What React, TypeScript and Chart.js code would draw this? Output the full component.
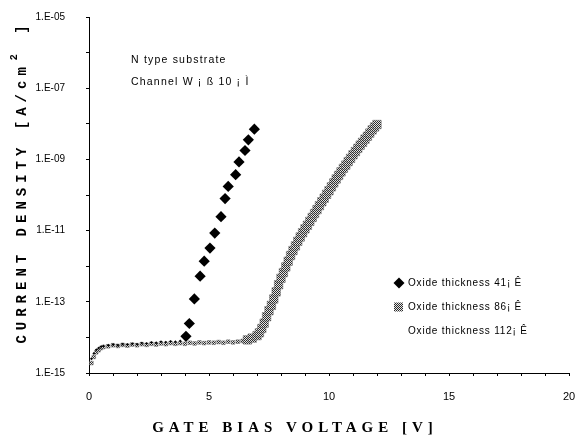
import React, { useEffect, useRef } from 'react';
import { Chart, registerables } from 'chart.js';
Chart.register(...registerables);

// Gate bias voltage [V] and log10 of current density [A/cm2]
const voltage41 = [0.1, 0.2, 0.3, 0.4, 0.5, 0.6, 0.8, 1.0, 1.2, 1.4, 1.6, 1.8, 2.0, 2.2, 2.4, 2.6, 2.8, 3.0, 3.2, 3.4, 3.6, 3.8,
  4.04, 4.18, 4.39, 4.63, 4.8, 5.04, 5.24, 5.5, 5.67, 5.8, 6.11, 6.25, 6.5, 6.64, 6.89];
const logJ41 = [-14.6, -14.45, -14.35, -14.3, -14.26, -14.24, -14.22, -14.2, -14.22, -14.19, -14.2, -14.18, -14.19, -14.16, -14.17, -14.14, -14.15, -14.12, -14.13, -14.11, -14.12, -14.1,
  -13.97, -13.61, -12.92, -12.28, -11.86, -11.49, -11.07, -10.61, -10.1, -9.76, -9.43, -9.07, -8.75, -8.45, -8.15];

const voltage86 = [0.1, 0.2, 0.3, 0.4, 0.5, 0.6, 0.8, 1.0, 1.2, 1.4, 1.6, 1.8, 2.0, 2.2, 2.4, 2.6, 2.8, 3.0, 3.2, 3.4, 3.6, 3.8,
  4.0, 4.2, 4.4, 4.6, 4.8, 5.0, 5.2, 5.4, 5.6, 5.8, 6.0, 6.2, 6.4, 6.6, 6.8,
  7.0, 7.1, 7.2, 7.3, 7.4, 7.5, 7.6, 7.7, 7.8, 7.9, 8.0, 8.1, 8.2, 8.3, 8.4, 8.5, 8.6, 8.7, 8.8, 8.9,
  9.0, 9.1, 9.2, 9.3, 9.4, 9.5, 9.6, 9.7, 9.8, 9.9, 10.0, 10.1, 10.2, 10.3, 10.4, 10.5, 10.6, 10.7, 10.8, 10.9,
  11.0, 11.1, 11.2, 11.3, 11.4, 11.5, 11.6, 11.7, 11.8, 11.9, 12.0];
const logJ86 = [-14.72, -14.55, -14.42, -14.36, -14.3, -14.27, -14.25, -14.22, -14.24, -14.21, -14.23, -14.2, -14.22, -14.19, -14.21, -14.18, -14.2, -14.17, -14.19, -14.16, -14.18, -14.16,
  -14.18, -14.15, -14.17, -14.14, -14.16, -14.14, -14.15, -14.13, -14.15, -14.12, -14.14, -14.12, -14.1, -14.07, -14.02,
  -13.95, -13.87, -13.75, -13.6, -13.42, -13.25, -13.1, -12.92, -12.72, -12.52, -12.34, -12.18, -12.02, -11.86, -11.7, -11.56, -11.43, -11.3, -11.18, -11.06,
  -10.95, -10.85, -10.74, -10.63, -10.52, -10.41, -10.3, -10.19, -10.09, -9.98, -9.88, -9.77, -9.66, -9.55, -9.45, -9.35, -9.25, -9.16, -9.06, -8.97,
  -8.87, -8.78, -8.69, -8.6, -8.52, -8.43, -8.35, -8.26, -8.17, -8.09, -8.02];

const voltage112: number[] = [];
const logJ112: number[] = [];

const seriesLabels = ['Oxide thickness 41¡ Ê', 'Oxide thickness 86¡ Ê', 'Oxide thickness 112¡ Ê'];
const annotationLines = ['N type substrate', 'Channel W ¡ ß 10 ¡ Ì'];
const yTickExponents = [-15, -14, -13, -12, -11, -10, -9, -8, -7, -6, -5];
const yLabelExponents = [-15, -13, -11, -9, -7, -5];
const xLabelValues = [0, 5, 10, 15, 20];
const xTitle = 'GATE BIAS VOLTAGE [V]';
const yTitleParts = ['CURRENT DENSITY [A/cm', '2', ' ]'];

function makePoints(xs: number[], ys: number[]) {
  return xs.map((x, i) => ({ x, y: Math.pow(10, ys[i]) }));
}

export default function App() {
  const ref = useRef<HTMLCanvasElement | null>(null);
  useEffect(() => {
    document.body.style.margin = '0';
    const canvas = ref.current!;
    const ctx = canvas.getContext('2d')!;
    const pc = document.createElement('canvas');
    pc.width = 2; pc.height = 2;
    const g = pc.getContext('2d')!;
    g.fillStyle = '#e6e6e6'; g.fillRect(0, 0, 2, 2);
    g.fillStyle = '#2a2a2a'; g.fillRect(0, 0, 1, 1); g.fillRect(1, 1, 1, 1);
    const pattern = ctx.createPattern(pc, 'repeat')!;

    const overlay = {
      id: 'overlay',
      afterDraw(chart: any) {
        const c = chart.ctx as CanvasRenderingContext2D;
        c.save();
        c.fillStyle = '#000';
        c.textBaseline = 'middle';
        // annotations
        c.font = '10.5px "Liberation Sans"';
        (c as any).letterSpacing = '1.2px';
        c.textAlign = 'left';
        c.fillText(annotationLines[0], 131, 60);
        c.fillText(annotationLines[1], 131, 82);
        // legend
        c.font = '10px "Liberation Sans"';
        (c as any).letterSpacing = '0.8px';
        const ly = [283, 307, 331];
        seriesLabels.forEach((t, i) => c.fillText(t, 408, ly[i]));
        c.beginPath();
        c.moveTo(399, ly[0] - 5.5); c.lineTo(404.5, ly[0]); c.lineTo(399, ly[0] + 5.5); c.lineTo(393.5, ly[0]); c.closePath();
        c.fillStyle = '#000'; c.fill();
        c.fillStyle = pattern;
        c.fillRect(394, ly[1] - 4.5, 9, 9);
        c.fillStyle = '#000';
        // x title
        (c as any).letterSpacing = '5px';
        c.font = 'bold 15px "Liberation Serif"';
        c.textAlign = 'center';
        c.fillText(xTitle, 295, 428);
        // y title
        c.translate(22, 182);
        c.rotate(-Math.PI / 2);
        c.font = 'bold 14px "Liberation Mono"';
        (c as any).letterSpacing = '5px';
        c.textAlign = 'left';
        const w0 = c.measureText(yTitleParts[0]).width;
        c.font = 'bold 10px "Liberation Mono"';
        const w1 = c.measureText(yTitleParts[1]).width;
        c.font = 'bold 14px "Liberation Mono"';
        const w2 = c.measureText(yTitleParts[2]).width;
        const total = w0 + w1 + 4 + w2;
        let x = -total / 2;
        c.fillText(yTitleParts[0], x, 0);
        x += w0 + 2;
        c.font = 'bold 10px "Liberation Mono"';
        c.fillText(yTitleParts[1], x, -8);
        x += w1 + 2;
        c.font = 'bold 14px "Liberation Mono"';
        c.fillText(yTitleParts[2], x, 0);
        c.restore();
      },
    };

    const chart = new Chart(canvas, {
      type: 'scatter',
      data: {
        datasets: [
          {
            label: seriesLabels[0],
            data: makePoints(voltage41, logJ41),
            pointStyle: 'rectRot',
            pointRadius: voltage41.map((v) => (v < 4 ? 1.4 : 5.6)),
            backgroundColor: '#000',
            borderColor: '#000',
            borderWidth: 0,
            showLine: false,
          },
          {
            label: seriesLabels[1],
            data: makePoints(voltage86, logJ86),
            pointStyle: 'rect',
            pointRadius: voltage86.map((v) => (v < 6.6 ? 2.6 : 6)),
            backgroundColor: pattern as any,
            borderColor: '#666',
            borderWidth: 0.5,
            showLine: false,
          },
          {
            label: seriesLabels[2],
            data: makePoints(voltage112, logJ112),
            pointRadius: 0,
            showLine: false,
          },
        ],
      },
      options: {
        responsive: false,
        animation: false,
        devicePixelRatio: 1,
        layout: { padding: { top: 17, right: 8, left: 0, bottom: 0 } },
        plugins: { legend: { display: false }, tooltip: { enabled: false } },
        scales: {
          x: {
            type: 'linear',
            min: 0,
            max: 20,
            afterBuildTicks: (s: any) => {
              const t = [];
              for (let i = 0; i <= 20; i++) t.push({ value: i });
              s.ticks = t;
            },
            afterFit: (s: any) => { s.height = 66; s.paddingLeft = 0; s.paddingRight = 0; },
            ticks: {
              autoSkip: false,
              maxRotation: 0,
              padding: 14,
              color: '#000',
              font: { family: '"Liberation Sans"', size: 11 },
              callback: (v: any) => (xLabelValues.includes(Number(v)) ? String(v) : ''),
            },
            grid: { drawOnChartArea: false, drawTicks: true, tickLength: 3, color: '#000' },
            border: { display: true, color: '#000', width: 1 },
          },
          y: {
            type: 'logarithmic',
            min: 1e-15,
            max: 1e-5,
            afterBuildTicks: (s: any) => {
              s.ticks = yTickExponents.map((e) => ({ value: Math.pow(10, e) }));
            },
            afterFit: (s: any) => { s.width = 89; s.paddingTop = 0; s.paddingBottom = 0; },
            ticks: {
              autoSkip: false,
              padding: 21,
              color: '#000',
              font: { family: '"Liberation Sans"', size: 10 },
              callback: (v: any) => {
                const e = Math.round(Math.log10(Number(v)));
                if (!yLabelExponents.includes(e)) return '';
                return '1.E-' + String(-e).padStart(2, '0');
              },
            },
            grid: { drawOnChartArea: false, drawTicks: true, tickLength: 3, color: '#000' },
            border: { display: true, color: '#000', width: 1 },
          },
        },
      },
      plugins: [overlay],
    });
    return () => chart.destroy();
  }, []);
  return <canvas ref={ref} width={577} height={439} style={{ display: 'block' }} />;
}
